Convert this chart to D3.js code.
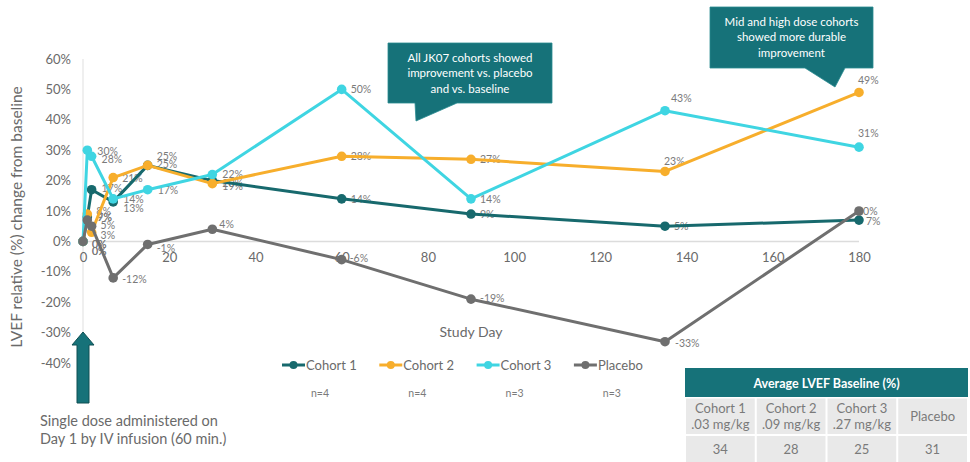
<!DOCTYPE html>
<html>
<head>
<meta charset="utf-8">
<script src="https://cdn.jsdelivr.net/npm/d3@7"></script>
<style>
  html, body { margin: 0; padding: 0; background: #ffffff; }
  svg { display: block; font-family: Lato, "Open Sans", sans-serif; }
</style>
</head>
<body>
<svg id="chart" width="970" height="462"></svg>
<script>
// Study days on which LVEF was measured
const studyDays = [0, 1, 2, 7, 15, 30, 60, 90, 135, 180];

// Relative change in LVEF from baseline (%), per cohort
const cohort1 = [0, 8, 17, 13, 25, 20, 14, 9, 5, 7];
const cohort2 = [0, 9, 3, 21, 25, 19, 28, 27, 23, 49];
const cohort3 = [0, 30, 28, 14, 17, 22, 50, 14, 43, 31];
const placebo = [0, 7, 5, -12, -1, 4, -6, -19, -33, 10];

const seriesNames = ["Cohort 1", "Cohort 2", "Cohort 3", "Placebo"];
const groupSizes = ["n=4", "n=4", "n=3", "n=3"];

const xTicks = [0, 20, 40, 60, 80, 100, 120, 140, 160, 180];
const yTicks = [-40, -30, -20, -10, 0, 10, 20, 30, 40, 50, 60];

// Baseline table
const tableTitle = "Average LVEF Baseline (%)";
const tableHeads = [["Cohort 1", ".03 mg/kg"], ["Cohort 2", ".09 mg/kg"], ["Cohort 3", ".27 mg/kg"], ["Placebo"]];
const tableValues = [34, 28, 25, 31];

const calloutLeft = ["All JK07 cohorts showed", "improvement vs. placebo", "and vs. baseline"];
const calloutRight = ["Mid and high dose cohorts", "showed more durable", "improvement"];
const doseNote = ["Single dose administered on", "Day 1 by IV infusion (60 min.)"];

// ---- styling ----
const colors = ["#17696d", "#f7ae2c", "#3fd5e2", "#6f6f6f"];
const textGray = "#7a7a7a";
const axisGray = "#6a6a6a";
const teal = "#167279";

// Data-label offsets from each point [dx, dy], kept separate so crowded labels stay legible
const labelOffsets = [
  [[9, 3], [9, -6], [10, -2], [10, 6], [9, -9], [10, 2], [9, 0], [9, 0], [9, 0], [7, 1]],
  [[9, 10], [10, 3], [9, 3], [9, 0], [9, -1], [10, 2], [9, 0], [9, 0], [-1, -10], [-1, -12]],
  [[9, 3], [10, 1], [10, 3], [10, 0], [10, 0], [10, -1], [9, 0], [9, 0], [6, -13], [-1, -14]],
  [[9, 10], [10, -3], [9, -1], [9, 1], [9, 4], [7, -5], [8, -2], [9, -1], [10, 1], [-2, 0]]
];

const svg = d3.select("#chart");

const x = d3.scaleLinear().domain([0, 180]).range([83, 859]);
const y = d3.scaleLinear().domain([-40, 60]).range([363, 59]);

// Reference lines: zero line and the day-0 vertical
svg.append("line")
  .attr("x1", x(0)).attr("x2", x(180))
  .attr("y1", y(0)).attr("y2", y(0))
  .attr("stroke", "#dcdcdc").attr("stroke-width", 1.5);
svg.append("line")
  .attr("x1", x(0)).attr("x2", x(0))
  .attr("y1", y(60)).attr("y2", y(-40))
  .attr("stroke", "#e4e4e4").attr("stroke-width", 1.2);

// Axes
const xAxis = svg.append("g")
  .attr("transform", `translate(0,${y(0)})`)
  .call(d3.axisBottom(x).tickValues(xTicks).tickSize(0).tickPadding(11).tickFormat(d3.format("d")));
xAxis.select(".domain").remove();
xAxis.selectAll("text").attr("fill", axisGray).style("font-size", "13px").style("font-family", "Lato, sans-serif");

const yAxis = svg.append("g")
  .attr("transform", `translate(${x(0)},0)`)
  .call(d3.axisLeft(y).tickValues(yTicks).tickSize(0).tickPadding(12).tickFormat(d => d + "%"));
yAxis.select(".domain").remove();
yAxis.selectAll("text").attr("fill", axisGray).style("font-size", "13px").style("font-family", "Lato, sans-serif");

// Axis titles
svg.append("text")
  .attr("transform", `translate(22,${(y(60) + y(-40)) / 2 + 6}) rotate(-90)`)
  .attr("text-anchor", "middle")
  .attr("fill", axisGray)
  .style("font-size", "15.5px")
  .text("LVEF relative (%) change from baseline");

svg.append("text")
  .attr("x", 471).attr("y", 337)
  .attr("text-anchor", "middle")
  .attr("fill", axisGray)
  .style("font-size", "14px")
  .text("Study Day");

// Series
const allSeries = [cohort1, cohort2, cohort3, placebo].map((vals, i) => ({
  name: seriesNames[i],
  color: colors[i],
  points: vals.map((v, j) => ({ day: studyDays[j], value: v, off: labelOffsets[i][j] }))
}));

// Data labels sit beneath the lines
const labelLayer = svg.append("g");
allSeries.forEach(s => {
  labelLayer.selectAll(null)
    .data(s.points)
    .join("text")
    .attr("x", d => x(d.day) + d.off[0])
    .attr("y", d => y(d.value) + d.off[1])
    .attr("dominant-baseline", "central")
    .attr("fill", textGray)
    .style("font-size", "10.5px")
    .text(d => d.value + "%");
});

const line = d3.line().x(d => x(d.day)).y(d => y(d.value));
const seriesLayer = svg.append("g");
allSeries.forEach(s => {
  const g = seriesLayer.append("g");
  g.append("path")
    .datum(s.points)
    .attr("d", line)
    .attr("fill", "none")
    .attr("stroke", s.color)
    .attr("stroke-width", 3)
    .attr("stroke-linejoin", "round");
  g.selectAll("circle")
    .data(s.points)
    .join("circle")
    .attr("cx", d => x(d.day))
    .attr("cy", d => y(d.value))
    .attr("r", 4.8)
    .attr("fill", s.color);
});

// Legend
const legend = svg.append("g").attr("transform", "translate(282,365)");
seriesNames.forEach((name, i) => {
  const g = legend.append("g").attr("transform", `translate(${i * 97.3},0)`);
  g.append("line").attr("x1", 0).attr("x2", 23).attr("y1", 0).attr("y2", 0)
    .attr("stroke", colors[i]).attr("stroke-width", 3);
  g.append("circle").attr("cx", 11.5).attr("cy", 0).attr("r", 4).attr("fill", colors[i]);
  g.append("text").attr("x", 24).attr("y", 0).attr("dominant-baseline", "central")
    .attr("fill", axisGray).style("font-size", "13px").text(name);
  g.append("text").attr("x", 38).attr("y", 28).attr("text-anchor", "middle")
    .attr("dominant-baseline", "central")
    .attr("fill", textGray).style("font-size", "10.5px").text(groupSizes[i]);
});

// Callouts
function callout(lines, rx, ry, rw, rh, tail) {
  const g = svg.append("g");
  g.append("path")
    .attr("d", `M${rx},${ry}H${rx + rw}V${ry + rh}H${tail[2]}L${tail[1][0]},${tail[1][1]}L${tail[0]},${ry + rh}H${rx}Z`)
    .attr("fill", teal)
    .attr("stroke", "#2a8a90").attr("stroke-width", 0.8);
  lines.forEach((t, i) => {
    g.append("text")
      .attr("x", rx + rw / 2)
      .attr("y", ry + 14 + i * 15.5)
      .attr("text-anchor", "middle")
      .attr("dominant-baseline", "central")
      .attr("fill", "#ffffff")
      .style("font-size", "11.5px")
      .text(t);
  });
}
callout(calloutLeft, 388, 43, 164, 60, [415, [416, 121], 457]);
callout(calloutRight, 710, 7, 163, 61, [805, [835, 87], 845]);

// Dose arrow
svg.append("path")
  .attr("d", "M83,332L94,345H89V403H77V345H72Z")
  .attr("fill", teal)
  .attr("stroke", "#0f4f53").attr("stroke-width", 1);

doseNote.forEach((t, i) => {
  svg.append("text")
    .attr("x", 40).attr("y", 420 + i * 18.5)
    .attr("dominant-baseline", "central")
    .attr("fill", axisGray)
    .style("font-size", "14.5px")
    .text(t);
});

// Baseline table
const tbl = svg.append("g");
const tx = 685, colW = 70.75;
tbl.append("rect").attr("x", tx).attr("y", 368).attr("width", colW * 4).attr("height", 29).attr("fill", teal);
tbl.append("text").attr("x", tx + colW * 2).attr("y", 383)
  .attr("text-anchor", "middle").attr("dominant-baseline", "central")
  .attr("fill", "#ffffff").style("font-size", "12.5px").style("font-weight", "bold")
  .text(tableTitle);
tableHeads.forEach((h, i) => {
  const cx = tx + i * colW;
  tbl.append("rect").attr("x", cx + 1).attr("y", 398.5).attr("width", colW - 2).attr("height", 35.5).attr("fill", "#e9e9e9");
  tbl.append("rect").attr("x", cx + 1).attr("y", 436).attr("width", colW - 2).attr("height", 26).attr("fill", "#e9e9e9");
  h.forEach((t, k) => {
    tbl.append("text")
      .attr("x", cx + colW / 2)
      .attr("y", 416 + (k - (h.length - 1) / 2) * 16)
      .attr("text-anchor", "middle").attr("dominant-baseline", "central")
      .attr("fill", textGray).style("font-size", "13px").text(t);
  });
  tbl.append("text").attr("x", cx + colW / 2).attr("y", 449)
    .attr("text-anchor", "middle").attr("dominant-baseline", "central")
    .attr("fill", textGray).style("font-size", "13px").text(tableValues[i]);
});
</script>
</body>
</html>
